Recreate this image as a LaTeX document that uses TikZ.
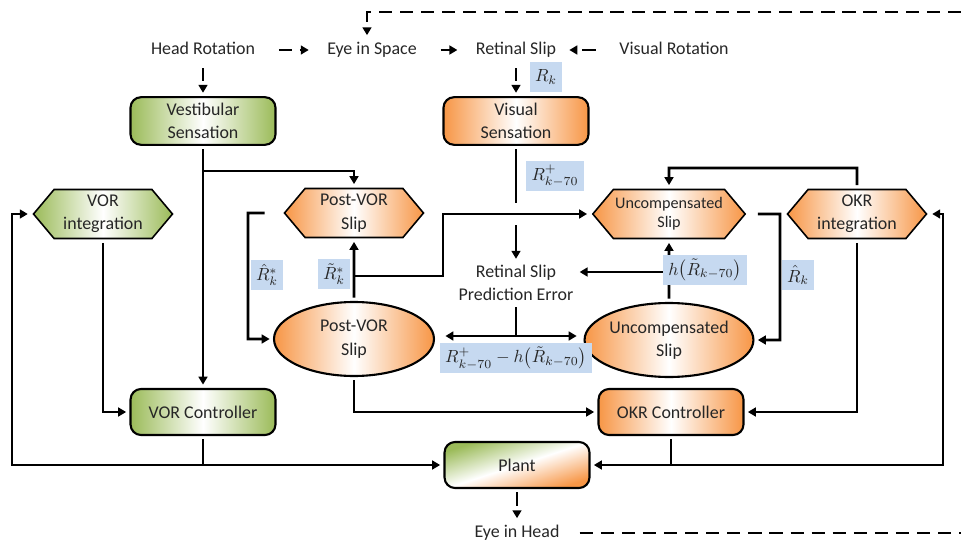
\documentclass[tikz,border=0pt]{standalone}
\usepackage{fontspec}
\setmainfont{Carlito}
\usetikzlibrary{arrows.meta, calc, shapes.symbols, shapes.geometric}

\definecolor{vestgreen}{RGB}{155,187,89}
\definecolor{okrorange}{RGB}{247,150,70}
\definecolor{sigblue}{RGB}{198,217,240}
\definecolor{inktext}{RGB}{38,38,38}

\tikzset{
  every node/.style={text=inktext, font=\fontsize{10.2}{13.3}\selectfont},
  plainsig/.style={text height=1.6ex, text depth=0.45ex},
  stagebox/.style={draw, line width=1.2pt, rounded corners=6pt, minimum width=2.9cm,
    minimum height=0.92cm, align=center, outer sep=2.5pt},
  greenfade/.style={left color=vestgreen, right color=vestgreen, middle color=white},
  orangefade/.style={left color=okrorange, right color=okrorange, middle color=white},
  hexnode/.style={draw, line width=0.9pt, signal, signal to=east and west,
    signal pointer angle=100, minimum width=2.78cm, minimum height=0.98cm,
    align=center, inner sep=1pt, outer sep=2.5pt},
  slipoval/.style={draw, line width=1.2pt, ellipse, minimum width=3.2cm,
    minimum height=1.48cm, inner sep=0pt, align=center, outer sep=2.5pt, orangefade},
  sigtag/.style={fill=sigblue, minimum height=0.6cm, inner xsep=3pt, inner ysep=2pt,
    font=\fontsize{10}{12}\selectfont},
  flow/.style={->, line width=1.5pt},
  plainflow/.style={line width=1.5pt},
  dashflow/.style={->, line width=1.5pt, dash pattern=on 7.5pt off 4.5pt}
}

\begin{document}
\begin{tikzpicture}[x=0.02cm, y=-0.02cm, >={Triangle[length=4.5pt,width=5pt]}]
    \useasboundingbox (0,0) rectangle (961,544);

    % top row of signals
    \node[plainsig] (head)    at (203,50) {Head Rotation};
    \node[plainsig] (eyesp)   at (372,50) {Eye in Space};
    \node[plainsig] (retslip) at (516,50) {Retinal Slip};
    \node[plainsig] (visrot)  at (674,50) {Visual Rotation};

    % sensation and controllers
    \node[stagebox, greenfade]  (vest) at (203,121) {Vestibular\\Sensation};
    \node[stagebox, orangefade] (vis)  at (516,121) {Visual\\Sensation};
    \node[stagebox, greenfade]  (vorc) at (203,412) {VOR Controller};
    \node[stagebox, orangefade] (okrc) at (671,412) {OKR Controller};
    \node[stagebox, left color=vestgreen, right color=okrorange, middle color=white,
      shading angle=18] (plant) at (517,465) {Plant};

    % hexagons
    \node[hexnode, greenfade]  (vorint) at (103,214) {VOR\\integration};
    \node[hexnode, orangefade] (pvhex)  at (354,213) {Post-VOR\\Slip};
    \node[hexnode, orangefade, font=\fontsize{9.2}{11}\selectfont]
      (unhex) at (669,214) {Uncompensated\\Slip};
    \node[hexnode, orangefade] (okrint) at (857,214) {OKR\\integration};

    % estimates
    \node[align=center] (rspe) at (516,283) {Retinal Slip\\Prediction Error};
    \node[slipoval] (pvell) at (354,339) {Post-VOR\\Slip};
    \node[slipoval] (unell) at (669,340) {Uncompensated\\Slip};

    \node[plainsig] (eyehd) at (517,533) {Eye in Head};

    % junctions
    \coordinate (toprt)  at (961,12);
    \coordinate (topdn)  at (367,12);
    \coordinate (botrt)  at (961,533);
    \coordinate (vjoin)  at (203,171);
    \coordinate (lrail)  at (12,465);
    \coordinate (rrail)  at (943,465);
    \coordinate (okrtop) at (857,168);
    \coordinate (pvloop) at (248,213);
    \coordinate (unloop) at (780,214);
    \coordinate (tjoin)  at (354,276);
    \coordinate (tturn)  at (443,276);
    \coordinate (hjoin)  at (669,272);
    \coordinate (ejoin)  at (516,336);

    % dashed physical signals
    \draw[dashflow, shorten <=10pt, shorten >=7pt] (head) -- (eyesp);
    \draw[dashflow, shorten <=10pt, shorten >=7pt] (eyesp) -- (retslip);
    \draw[dashflow, shorten <=10pt, shorten >=4pt] (visrot) -- (retslip);
    \draw[dashflow, shorten <=2pt] (head) -- (vest);
    \draw[dashflow, shorten <=2pt] (retslip) -- (vis);
    \draw[dashflow] (toprt) -- (topdn) -- (topdn |- eyesp.north);
    \draw[dashflow] (plant) -- (eyehd);
    \draw[line width=1.5pt, dash pattern=on 7.5pt off 4.5pt, shorten <=8pt]
      (eyehd) -- (botrt);

    % vestibular path
    \draw[flow] (vest) -- (vorc);
    \draw[flow] (vjoin) -| (pvhex);
    \draw[flow] (vorint) |- (vorc);
    \draw[flow] (vorc) |- (plant);
    \draw[flow] (vorc.south |- plant.west) -- (lrail) |- (vorint);

    % optokinetic path
    \draw[flow] (okrc) |- (plant);
    \draw[flow] (okrc.south |- plant.east) -- (rrail) |- (okrint);
    \draw[flow] (okrint) -- (okrtop) -| (unhex);
    \draw[flow] (okrint) |- (okrc);
    \draw[flow] (pvell) |- (okrc);

    % slip estimates
    \draw[flow, shorten <=8pt] (pvhex) -- (pvloop) |- (pvell);
    \draw[flow, shorten <=4pt] (unhex) -- (unloop) |- (unell);
    \draw[flow] (pvell) -- (pvhex);
    \draw[flow] (unell) -- (unhex);
    \draw[flow] (hjoin) -- (hjoin -| rspe.east);
    \draw[flow] (vis) -- (rspe);
    \fill[white] ($(vis.south |- unhex.west)+(-3pt,-6pt)$) rectangle
      ($(vis.south |- unhex.west)+(3pt,6pt)$);
    \draw[flow] (tjoin) -- (tturn) |- (unhex);
    \draw[plainflow] (rspe) -- (ejoin);
    \draw[flow, shorten >=4pt] (ejoin) -- (ejoin -| pvell.east);
    \draw[flow, shorten >=2pt] (ejoin) -- (ejoin -| unell.west);

    % signal labels
    \node[sigtag] (lrk)     at (546,77)  {$R_k$};
    \node[sigtag] (lrplus)  at (555,176) {$R^{+}_{k-70}$};
    \node[sigtag] (lrhats)  at (267,275) {$\hat R^{*}_{k}$};
    \node[sigtag] (lrtils)  at (334,274) {$\tilde R^{*}_{k}$};
    \node[sigtag] (lhpred)  at (705,270) {$h\bigl(\tilde R_{k-70}\bigr)$};
    \node[sigtag] (lrhat)   at (798,275) {$\hat R_{k}$};
    \node[sigtag] (lerror)  at (516,358) {$R^{+}_{k-70}-h\bigl(\tilde R_{k-70}\bigr)$};
\end{tikzpicture}
\end{document}
